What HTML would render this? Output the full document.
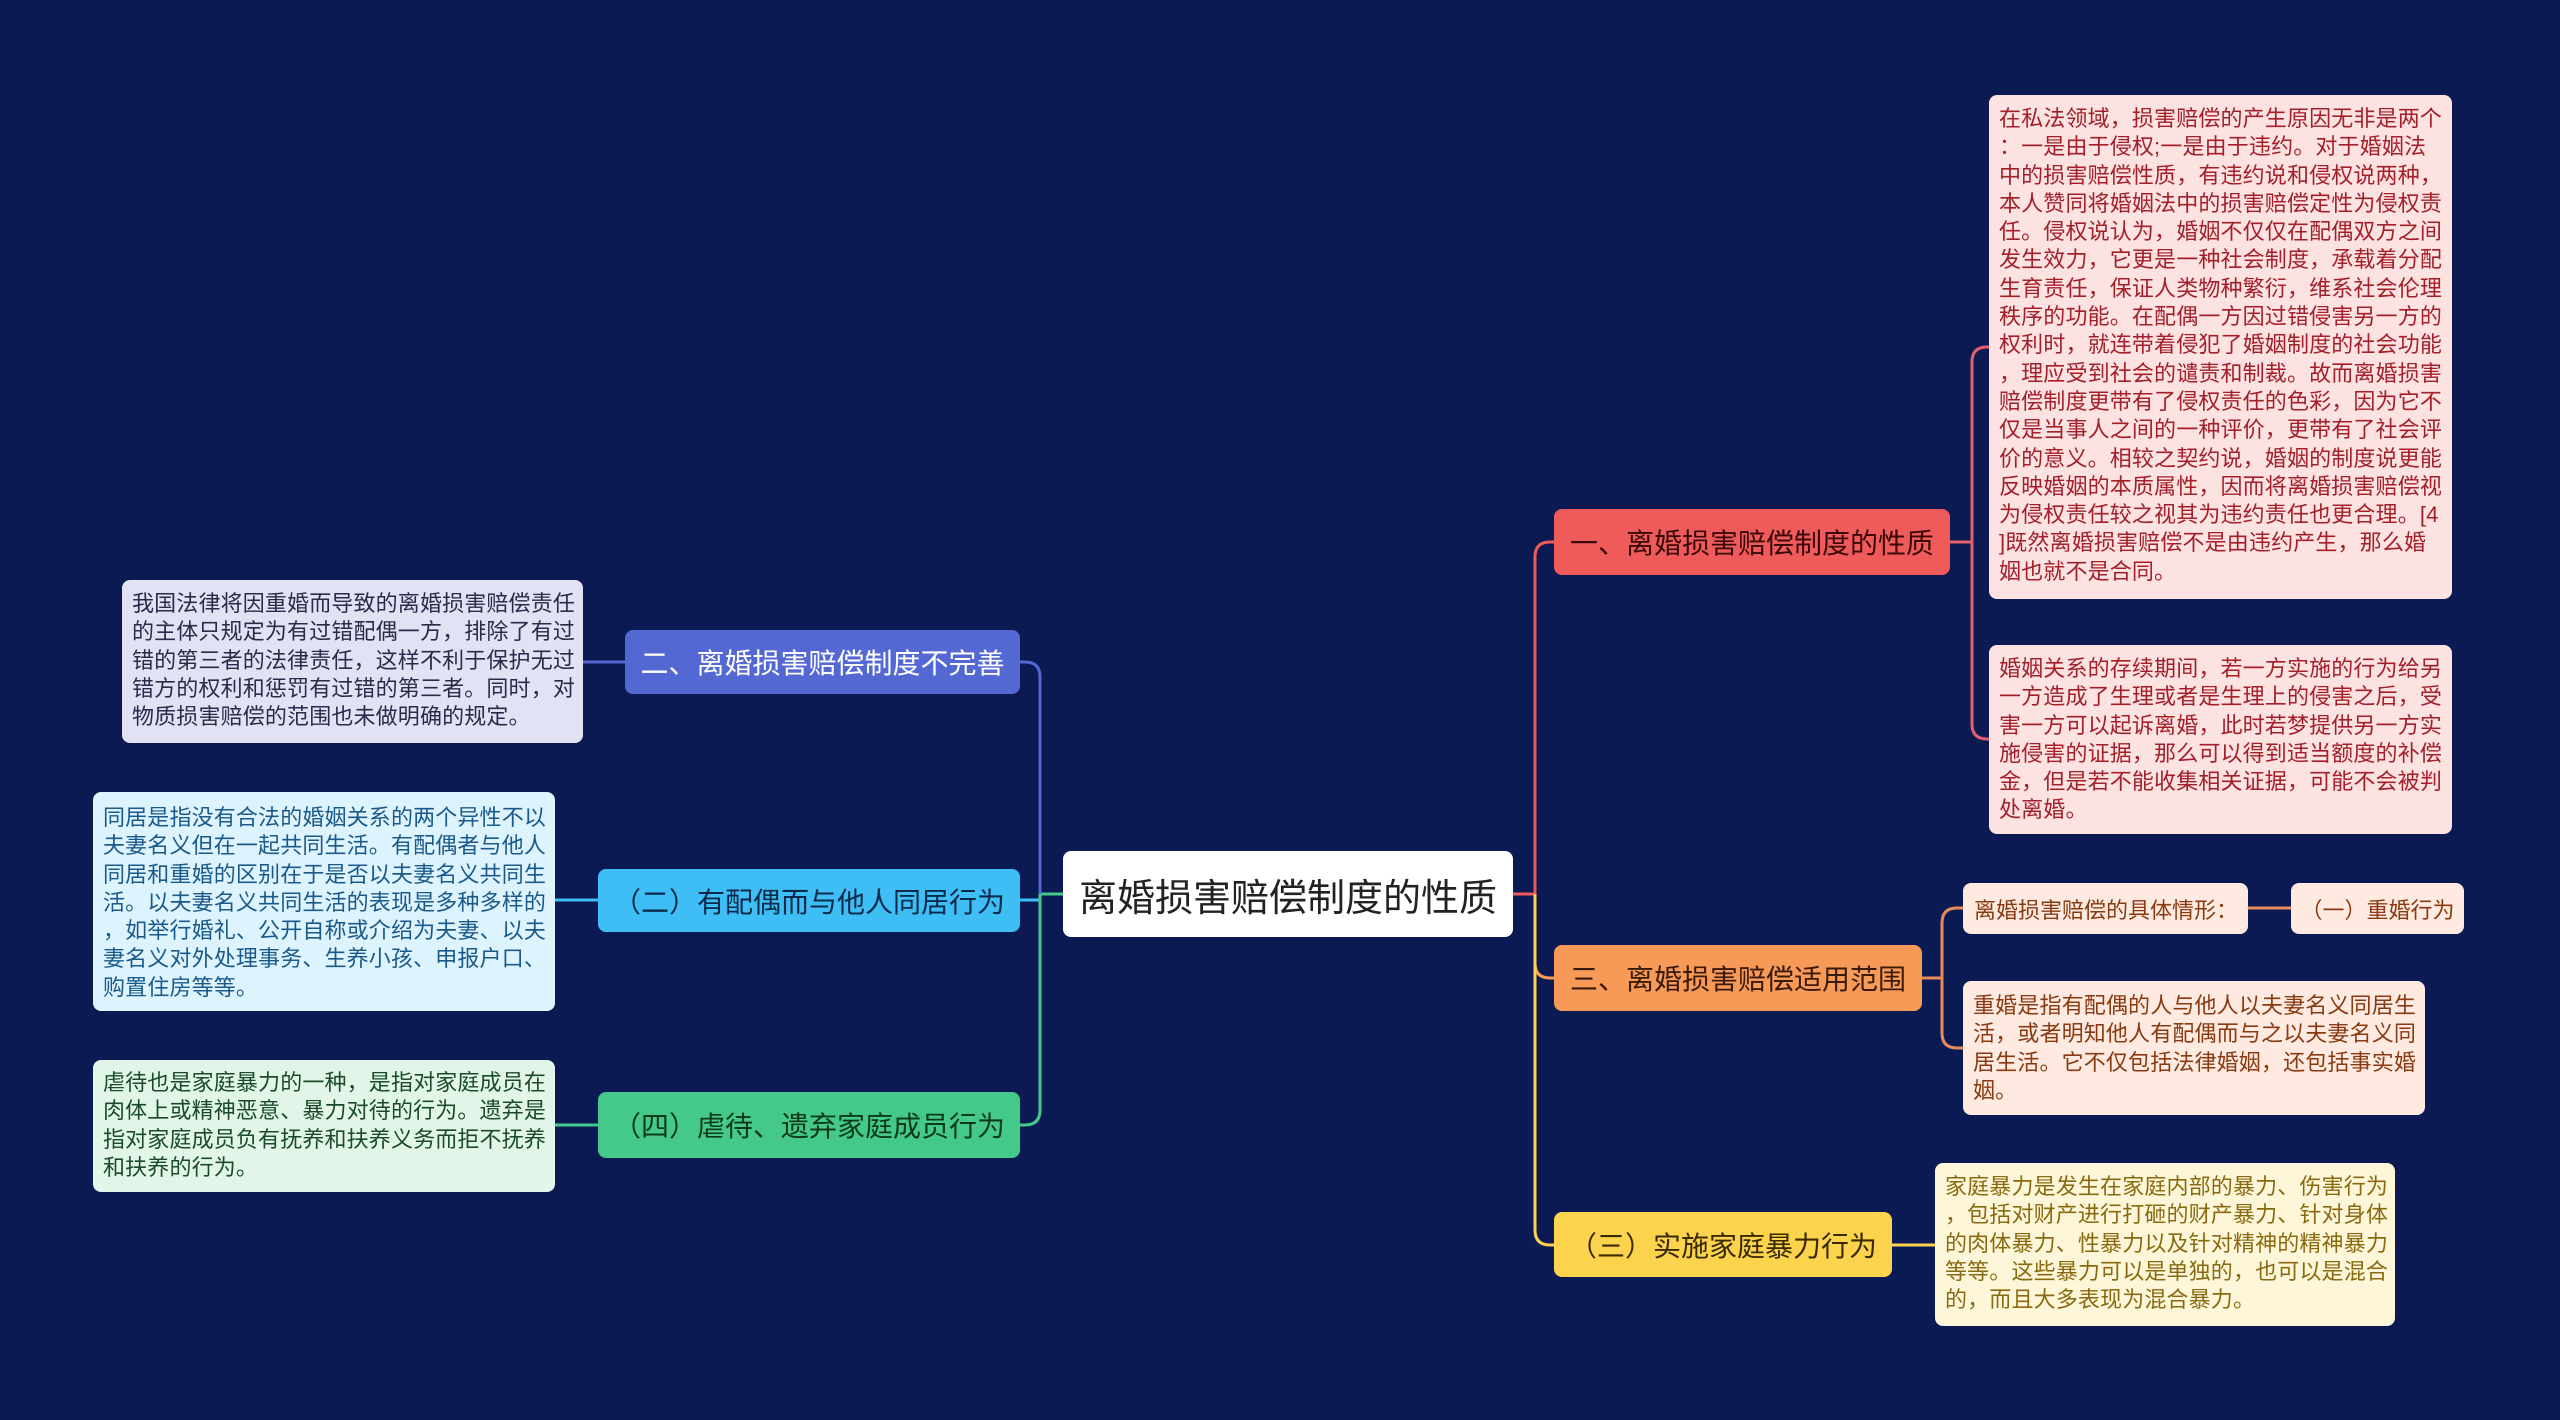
<!DOCTYPE html>
<html><head><meta charset="utf-8"><style>
body{margin:0;width:2560px;height:1420px;background:#0b1a52;overflow:hidden;position:relative;font-family:"Liberation Sans","Noto Sans CJK SC",sans-serif}
.b{position:absolute;box-sizing:border-box;border-radius:8px;display:flex;align-items:center;justify-content:center;white-space:nowrap}
.n{font-size:28px}
.t{position:absolute;box-sizing:border-box;border-radius:8px;font-size:22px;letter-spacing:0.15px;line-height:28.3px;white-space:pre;padding:10px 10px}
svg{position:absolute;left:0;top:0}
</style></head><body>
<svg width="2560" height="1420" fill="none" stroke-width="3">
<path d="M1513 894 H1535" stroke="#ef5a5a"/>
<path d="M1535 894 V557 Q1535 542 1550 542 H1554" stroke="#ef5a5a"/>
<path d="M1535 894 V963 Q1535 978 1550 978 H1554" stroke="#f79a58"/>
<path d="M1535 894 V1230 Q1535 1245 1550 1245 H1554" stroke="#fcd34d"/>
<path d="M1950 542 H1972 M1972 542 V362 Q1972 347 1987 347 H1989 M1972 542 V724 Q1972 739 1987 739 H1989" stroke="#e5606a"/>
<path d="M1922 978 H1942 M1942 978 V923 Q1942 908 1957 908 H1963 M1942 978 V1033 Q1942 1048 1957 1048 H1963" stroke="#e88a5a"/>
<path d="M2248 908 H2291" stroke="#e88a5a"/>
<path d="M1892 1245 H1935" stroke="#fcd34d"/>
<path d="M1063 894 H1040" stroke="#45c98a"/>
<path d="M1040 894 V677 Q1040 662 1025 662 H1020" stroke="#5468d4"/>
<path d="M1040 894 V900 H1020" stroke="#3fbdf5"/>
<path d="M1040 894 V1110 Q1040 1125 1025 1125 H1020" stroke="#45c98a"/>
<path d="M625 662 H583" stroke="#5468d4"/>
<path d="M598 900 H555" stroke="#3fbdf5"/>
<path d="M598 1125 H555" stroke="#45c98a"/>
</svg>

<div class="b" style="left:1063px;top:851px;width:450px;height:86px;background:#fff;color:#222;font-size:38px">离婚损害赔偿制度的性质</div>

<div class="b n" style="left:1554px;top:509px;width:396px;height:66px;background:#ef5a5a;color:#3a0808">一、离婚损害赔偿制度的性质</div>
<div class="t" style="left:1989px;top:95px;width:463px;height:504px;background:#fde2e2;color:#a3202a">在私法领域，损害赔偿的产生原因无非是两个
：一是由于侵权;一是由于违约。对于婚姻法
中的损害赔偿性质，有违约说和侵权说两种，
本人赞同将婚姻法中的损害赔偿定性为侵权责
任。侵权说认为，婚姻不仅仅在配偶双方之间
发生效力，它更是一种社会制度，承载着分配
生育责任，保证人类物种繁衍，维系社会伦理
秩序的功能。在配偶一方因过错侵害另一方的
权利时，就连带着侵犯了婚姻制度的社会功能
，理应受到社会的谴责和制裁。故而离婚损害
赔偿制度更带有了侵权责任的色彩，因为它不
仅是当事人之间的一种评价，更带有了社会评
价的意义。相较之契约说，婚姻的制度说更能
反映婚姻的本质属性，因而将离婚损害赔偿视
为侵权责任较之视其为违约责任也更合理。[4
]既然离婚损害赔偿不是由违约产生，那么婚
姻也就不是合同。</div>
<div class="t" style="left:1989px;top:645px;width:463px;height:189px;background:#fde2e2;color:#a3202a">婚姻关系的存续期间，若一方实施的行为给另
一方造成了生理或者是生理上的侵害之后，受
害一方可以起诉离婚，此时若梦提供另一方实
施侵害的证据，那么可以得到适当额度的补偿
金，但是若不能收集相关证据，可能不会被判
处离婚。</div>

<div class="b n" style="left:1554px;top:945px;width:368px;height:66px;background:#f79a58;color:#3a1a08">三、离婚损害赔偿适用范围</div>
<div class="b" style="left:1963px;top:883px;width:285px;height:51px;background:#feeae0;color:#8a3a10;font-size:22px;justify-content:flex-start;padding-left:11px">离婚损害赔偿的具体情形：</div>
<div class="b" style="left:2291px;top:883px;width:173px;height:51px;background:#feeae0;color:#8a3a10;font-size:22px">（一）重婚行为</div>
<div class="t" style="left:1963px;top:981px;width:462px;height:134px;background:#feeae0;color:#8a3a10;padding-top:11px">重婚是指有配偶的人与他人以夫妻名义同居生
活，或者明知他人有配偶而与之以夫妻名义同
居生活。它不仅包括法律婚姻，还包括事实婚
姻。</div>

<div class="b n" style="left:1554px;top:1212px;width:338px;height:65px;background:#fcd34d;color:#3a2a00">（三）实施家庭暴力行为</div>
<div class="t" style="left:1935px;top:1163px;width:460px;height:163px;background:#fdf6d8;color:#8a6a10">家庭暴力是发生在家庭内部的暴力、伤害行为
，包括对财产进行打砸的财产暴力、针对身体
的肉体暴力、性暴力以及针对精神的精神暴力
等等。这些暴力可以是单独的，也可以是混合
的，而且大多表现为混合暴力。</div>

<div class="b n" style="left:625px;top:630px;width:395px;height:64px;background:#5468d4;color:#fff">二、离婚损害赔偿制度不完善</div>
<div class="t" style="left:122px;top:580px;width:461px;height:163px;background:#e1e3f5;color:#2a2a4a">我国法律将因重婚而导致的离婚损害赔偿责任
的主体只规定为有过错配偶一方，排除了有过
错的第三者的法律责任，这样不利于保护无过
错方的权利和惩罚有过错的第三者。同时，对
物质损害赔偿的范围也未做明确的规定。</div>

<div class="b n" style="left:598px;top:869px;width:422px;height:63px;background:#3fbdf5;color:#0a2a4a">（二）有配偶而与他人同居行为</div>
<div class="t" style="left:93px;top:792px;width:462px;height:219px;background:#ddf3fe;color:#1a5a8a;padding-top:12px">同居是指没有合法的婚姻关系的两个异性不以
夫妻名义但在一起共同生活。有配偶者与他人
同居和重婚的区别在于是否以夫妻名义共同生
活。以夫妻名义共同生活的表现是多种多样的
，如举行婚礼、公开自称或介绍为夫妻、以夫
妻名义对外处理事务、生养小孩、申报户口、
购置住房等等。</div>

<div class="b n" style="left:598px;top:1092px;width:422px;height:66px;background:#45c98a;color:#0a3a1a">（四）虐待、遗弃家庭成员行为</div>
<div class="t" style="left:93px;top:1060px;width:462px;height:132px;background:#e1f6e8;color:#1a4a2a;padding-top:9px">虐待也是家庭暴力的一种，是指对家庭成员在
肉体上或精神恶意、暴力对待的行为。遗弃是
指对家庭成员负有抚养和扶养义务而拒不抚养
和扶养的行为。</div>
</body></html>
